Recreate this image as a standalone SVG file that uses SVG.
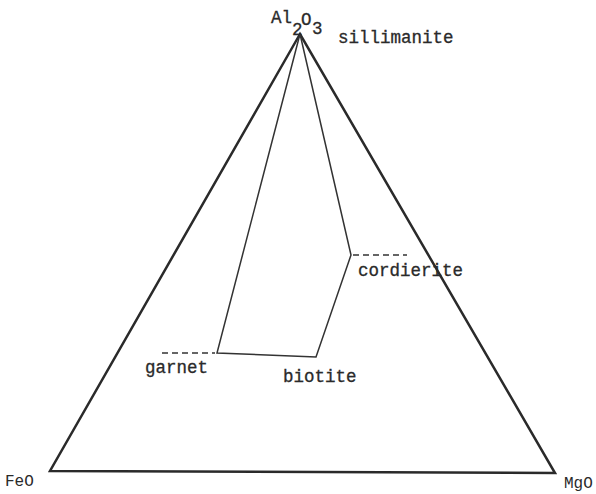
<svg xmlns="http://www.w3.org/2000/svg" width="596" height="494" viewBox="0 0 596 494">
<style>
.t{font-family:"Liberation Mono","DejaVu Sans Mono",monospace;font-size:17.5px;fill:#2a2a2a;stroke:#2a2a2a;stroke-width:0.3}
.s{font-family:"Liberation Mono","DejaVu Sans Mono",monospace;font-size:16px;fill:#2a2a2a}
.e{stroke:#2a2a2a;stroke-width:2.5;fill:none;stroke-linejoin:miter}
.i{stroke:#333;stroke-width:1.5;fill:none}
.d{stroke:#333;stroke-width:1.3;stroke-dasharray:6,4;fill:none}
</style>
<rect width="596" height="494" fill="#fff"/>
<g id="connectors">
<polygon class="e" points="300,34 50,471 555,473"/>
<polyline class="i" points="300,34 217,353 316,357 351,255 300,34"/>
<line class="d" x1="162" y1="353" x2="215" y2="353"/>
<line class="d" x1="353" y1="255" x2="407" y2="255"/>
</g>
<g id="al2o3">
<text class="t" x="271" y="23">Al</text>
<text class="t" x="292" y="35">2</text>
<text class="t" x="301" y="25">O</text>
<text class="t" x="312" y="34">3</text>
</g>
<g id="sillimanite"><text class="t" x="338" y="43">sillimanite</text></g>
<g id="cordierite"><text class="t" x="358" y="276">cordierite</text></g>
<g id="garnet"><text class="t" x="145" y="373">garnet</text></g>
<g id="biotite"><text class="t" x="283" y="382">biotite</text></g>
<g id="feo"><text class="s" x="5" y="486">FeO</text></g>
<g id="mgo"><text class="s" x="564" y="488">MgO</text></g>
</svg>
